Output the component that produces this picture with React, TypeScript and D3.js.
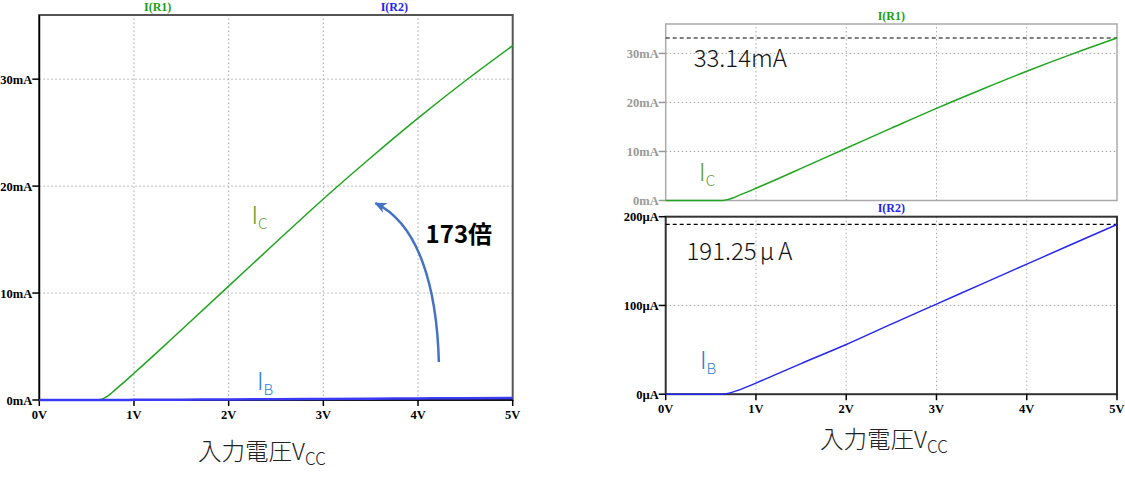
import React, { useRef, useEffect } from 'react';
import * as d3 from 'd3';

// sweep of input voltage (V) and the two currents
const vcc = [0, 0.5, 0.6, 0.65, 0.7, 0.75, 0.8, 0.9, 1.0, 1.25, 1.5, 2.0, 2.5, 3.0, 3.5, 4.0, 4.5, 5.0];
const icMilli = [0, 0, 0.01, 0.05, 0.25, 0.55, 0.95, 1.7, 2.5, 4.5, 6.55, 10.65, 14.75, 18.8, 22.65, 26.35, 29.85, 33.14];
const ibMicro = [0, 0, 0.05, 0.3, 1.2, 2.6, 4.3, 8.3, 12.5, 23.5, 34.5, 56, 79, 101.5, 124, 146.5, 169, 191.25];

const voltTicks = [0, 1, 2, 3, 4, 5];
const maTicks = [0, 10, 20, 30];
const uaTicks = [0, 100, 200];

const icPeak = 33.14;
const ibPeak = 191.25;
const gain = 173;

// arrow in the left chart, in (V, mA)
const gainArrow: [number, number][] = [[4.22, 3.55], [4.2, 10.3], [4.02, 16.4], [3.55, 18.4]];

const GREEN = '#1fa51f';
const BLUE = '#2626f0';
const LBL_GREEN = '#5f9e2c';
const LBL_BLUE = '#2f80d6';
const TICK_FONT = '"Liberation Serif", "Times New Roman", serif';
const JP_FONT = '"Noto Sans CJK JP", "Noto Sans", sans-serif';

const App: React.FC = () => {
  const svgRef = useRef<SVGSVGElement | null>(null);

  useEffect(() => {
    if (!svgRef.current) return;
    const svg = d3.select(svgRef.current);
    svg.selectAll('*').remove();

    const pts = vcc.map((v, i) => ({ v, ic: icMilli[i], ib: ibMicro[i] }));

    const defs = svg.append('defs');
    defs.append('marker')
      .attr('id', 'arrowHead')
      .attr('viewBox', '0 0 12 12')
      .attr('refX', 10)
      .attr('refY', 6)
      .attr('markerWidth', 13)
      .attr('markerHeight', 13)
      .attr('markerUnits', 'userSpaceOnUse')
      .attr('orient', 'auto')
      .append('path')
      .attr('d', 'M0,1 L11,6 L0,11 L3,6 Z')
      .attr('fill', '#4472C4');

    const grid = (g: any, x: any, y: any, xs: number[], ys: number[]) => {
      g.selectAll(null).data(xs).enter().append('line')
        .attr('x1', (d: number) => x(d)).attr('x2', (d: number) => x(d))
        .attr('y1', y.range()[0]).attr('y2', y.range()[1])
        .attr('stroke', '#a8a8a8').attr('stroke-width', 1).attr('stroke-dasharray', '1.5,2.5');
      g.selectAll(null).data(ys).enter().append('line')
        .attr('x1', x.range()[0]).attr('x2', x.range()[1])
        .attr('y1', (d: number) => y(d)).attr('y2', (d: number) => y(d))
        .attr('stroke', '#a8a8a8').attr('stroke-width', 1).attr('stroke-dasharray', '1.5,2.5');
    };

    const yLabels = (g: any, x: any, y: any, ticks: number[], unit: string, color: string) => {
      const x0 = x.range()[0];
      ticks.forEach(t => {
        g.append('line').attr('x1', x0 - 7).attr('x2', x0).attr('y1', y(t)).attr('y2', y(t))
          .attr('stroke', color).attr('stroke-width', 1.5);
        g.append('text').attr('x', x0 - 7).attr('y', y(t) + 4.5)
          .attr('text-anchor', 'end').attr('font-family', TICK_FONT).attr('font-weight', 'bold')
          .attr('font-size', 12.5).attr('fill', color).text(`${t}${unit}`);
      });
    };

    const xLabels = (g: any, x: any, yBase: number, baseline: number) => {
      voltTicks.forEach(t => {
        g.append('line').attr('x1', x(t)).attr('x2', x(t)).attr('y1', yBase).attr('y2', yBase + 6)
          .attr('stroke', '#000').attr('stroke-width', 1.5);
        g.append('text').attr('x', x(t)).attr('y', baseline)
          .attr('text-anchor', 'middle').attr('font-family', TICK_FONT).attr('font-weight', 'bold')
          .attr('font-size', 12.5).attr('fill', '#000').text(`${t}V`);
      });
    };

    const header = (g: any, x: number, y: number, text: string, color: string) => {
      g.append('text').attr('x', x).attr('y', y).attr('text-anchor', 'middle')
        .attr('font-family', TICK_FONT).attr('font-weight', 'bold').attr('font-size', 12)
        .attr('fill', color).text(text);
    };

    const subLabel = (g: any, x: number, y: number, main: string, sub: string, color: string, size: number, subSize: number, dy: number) => {
      const t = g.append('text').attr('x', x).attr('y', y).attr('font-family', JP_FONT)
        .attr('font-weight', 300).attr('fill', color).attr('font-size', size);
      t.append('tspan').text(main);
      t.append('tspan').attr('font-size', subSize).attr('dy', dy).text(sub);
    };

    // ---------- left chart: both currents on a mA scale ----------
    const xL = d3.scaleLinear().domain([0, 5]).range([39.3, 512.7]);
    const yL = d3.scaleLinear().domain([0, 36]).range([400, 15]);
    const left = svg.append('g');

    grid(left, xL, yL, [1, 2, 3, 4], [10, 20, 30]);
    left.append('rect')
      .attr('x', xL(0)).attr('y', yL(36)).attr('width', xL(5) - xL(0)).attr('height', yL(0) - yL(36))
      .attr('fill', 'none').attr('stroke', '#555').attr('stroke-width', 2);
    left.append('line').attr('x1', xL(0)).attr('x2', xL(0)).attr('y1', yL(36)).attr('y2', yL(0))
      .attr('stroke', '#000').attr('stroke-width', 1.5);
    left.append('line').attr('x1', xL(0)).attr('x2', xL(5)).attr('y1', yL(0)).attr('y2', yL(0))
      .attr('stroke', '#000').attr('stroke-width', 1.5);

    yLabels(left, xL, yL, maTicks, 'mA', '#000');
    xLabels(left, xL, yL(0), 419);
    header(left, xL(1.25), 11, 'I(R1)', '#1a9e1a');
    header(left, xL(3.75), 11, 'I(R2)', '#2424ee');

    const icLineL = d3.line<any>().x(d => xL(d.v)).y(d => yL(d.ic)).curve(d3.curveMonotoneX);
    const ibLineL = d3.line<any>().x(d => xL(d.v)).y(d => yL(d.ib / 1000)).curve(d3.curveMonotoneX);
    left.append('path').datum(pts).attr('d', icLineL)
      .attr('fill', 'none').attr('stroke', GREEN).attr('stroke-width', 1.5);
    left.append('path').datum(pts).attr('d', ibLineL)
      .attr('fill', 'none').attr('stroke', '#3a3af5').attr('stroke-width', 2.5);

    subLabel(left, xL(2.24), yL(16.5), 'I', 'C', LBL_GREEN, 24, 15, 5);
    subLabel(left, xL(2.3), yL(0.97), 'I', 'B', LBL_BLUE, 24, 15, 5);

    const a = gainArrow.map(([v, m]) => [xL(v), yL(m)]);
    left.append('path')
      .attr('d', `M${a[0][0]},${a[0][1]} C${a[1][0]},${a[1][1]} ${a[2][0]},${a[2][1]} ${a[3][0]},${a[3][1]}`)
      .attr('fill', 'none').attr('stroke', '#4472C4').attr('stroke-width', 2.5)
      .attr('marker-end', 'url(#arrowHead)');
    left.append('text').attr('x', xL(4.08)).attr('y', yL(14.7))
      .attr('font-family', JP_FONT).attr('font-weight', 'bold').attr('font-size', 24)
      .attr('fill', '#000').text(`${gain}倍`);

    subLabel(left, 198, 460, '入力電圧V', 'CC', '#222', 23.5, 17, 5);

    // ---------- right chart: two stacked panes ----------
    const xR = d3.scaleLinear().domain([0, 5]).range([665.7, 1117]);
    const yT = d3.scaleLinear().domain([0, 36]).range([200.5, 24]);
    const yB = d3.scaleLinear().domain([0, 200]).range([394.2, 216.7]);
    const right = svg.append('g');

    // top pane (IC)
    grid(right, xR, yT, [1, 2, 3, 4], [10, 20, 30]);
    right.append('rect')
      .attr('x', xR(0)).attr('y', yT(36)).attr('width', xR(5) - xR(0)).attr('height', yT(0) - yT(36))
      .attr('fill', 'none').attr('stroke', '#aaa').attr('stroke-width', 1.5);
    yLabels(right, xR, yT, maTicks, 'mA', '#999');
    header(right, (xR(0) + xR(5)) / 2, 19.5, 'I(R1)', '#1a9e1a');
    right.append('line')
      .attr('x1', xR(0)).attr('x2', xR(5)).attr('y1', yT(icPeak)).attr('y2', yT(icPeak))
      .attr('stroke', '#000').attr('stroke-width', 1.2).attr('stroke-dasharray', '4,3');
    right.append('path').datum(pts)
      .attr('d', d3.line<any>().x(d => xR(d.v)).y(d => yT(d.ic)).curve(d3.curveMonotoneX))
      .attr('fill', 'none').attr('stroke', GREEN).attr('stroke-width', 1.5);
    right.append('text').attr('x', xR(0.31)).attr('y', yT(27.3))
      .attr('font-family', JP_FONT).attr('font-weight', 300).attr('font-size', 24)
      .attr('fill', '#111').text(`${icPeak}mA`);
    subLabel(right, xR(0.37), yT(4.0), 'I', 'C', LBL_GREEN, 24, 15, 5);

    // bottom pane (IB)
    grid(right, xR, yB, [1, 2, 3, 4], [100]);
    right.append('rect')
      .attr('x', xR(0)).attr('y', yB(200)).attr('width', xR(5) - xR(0)).attr('height', yB(0) - yB(200))
      .attr('fill', 'none').attr('stroke', '#333').attr('stroke-width', 2);
    yLabels(right, xR, yB, uaTicks, 'µA', '#000');
    xLabels(right, xR, yB(0), 413);
    header(right, (xR(0) + xR(5)) / 2, 212, 'I(R2)', '#2424ee');
    right.append('line')
      .attr('x1', xR(0)).attr('x2', xR(5)).attr('y1', yB(ibPeak)).attr('y2', yB(ibPeak))
      .attr('stroke', '#000').attr('stroke-width', 1.2).attr('stroke-dasharray', '4,3');
    right.append('path').datum(pts)
      .attr('d', d3.line<any>().x(d => xR(d.v)).y(d => yB(d.ib)).curve(d3.curveMonotoneX))
      .attr('fill', 'none').attr('stroke', BLUE).attr('stroke-width', 1.5);
    const ibText = right.append('text').attr('x', xR(0.23)).attr('y', yB(151.7))
      .attr('font-family', JP_FONT).attr('font-weight', 300).attr('font-size', 24)
      .attr('fill', '#111');
    ibText.append('tspan').text(`${ibPeak}`);
    ibText.append('tspan').attr('dx', 3).text('μ');
    ibText.append('tspan').attr('dx', 4).text('A');
    subLabel(right, xR(0.38), yB(28.4), 'I', 'B', LBL_BLUE, 24, 15, 5);

    subLabel(right, 820, 448, '入力電圧V', 'CC', '#222', 23.5, 17, 5);
  }, []);

  return (
    <svg
      ref={svgRef}
      width={1125}
      height={482}
      style={{ position: 'absolute', left: 0, top: 0, background: '#fff' }}
    />
  );
};

export default App;
